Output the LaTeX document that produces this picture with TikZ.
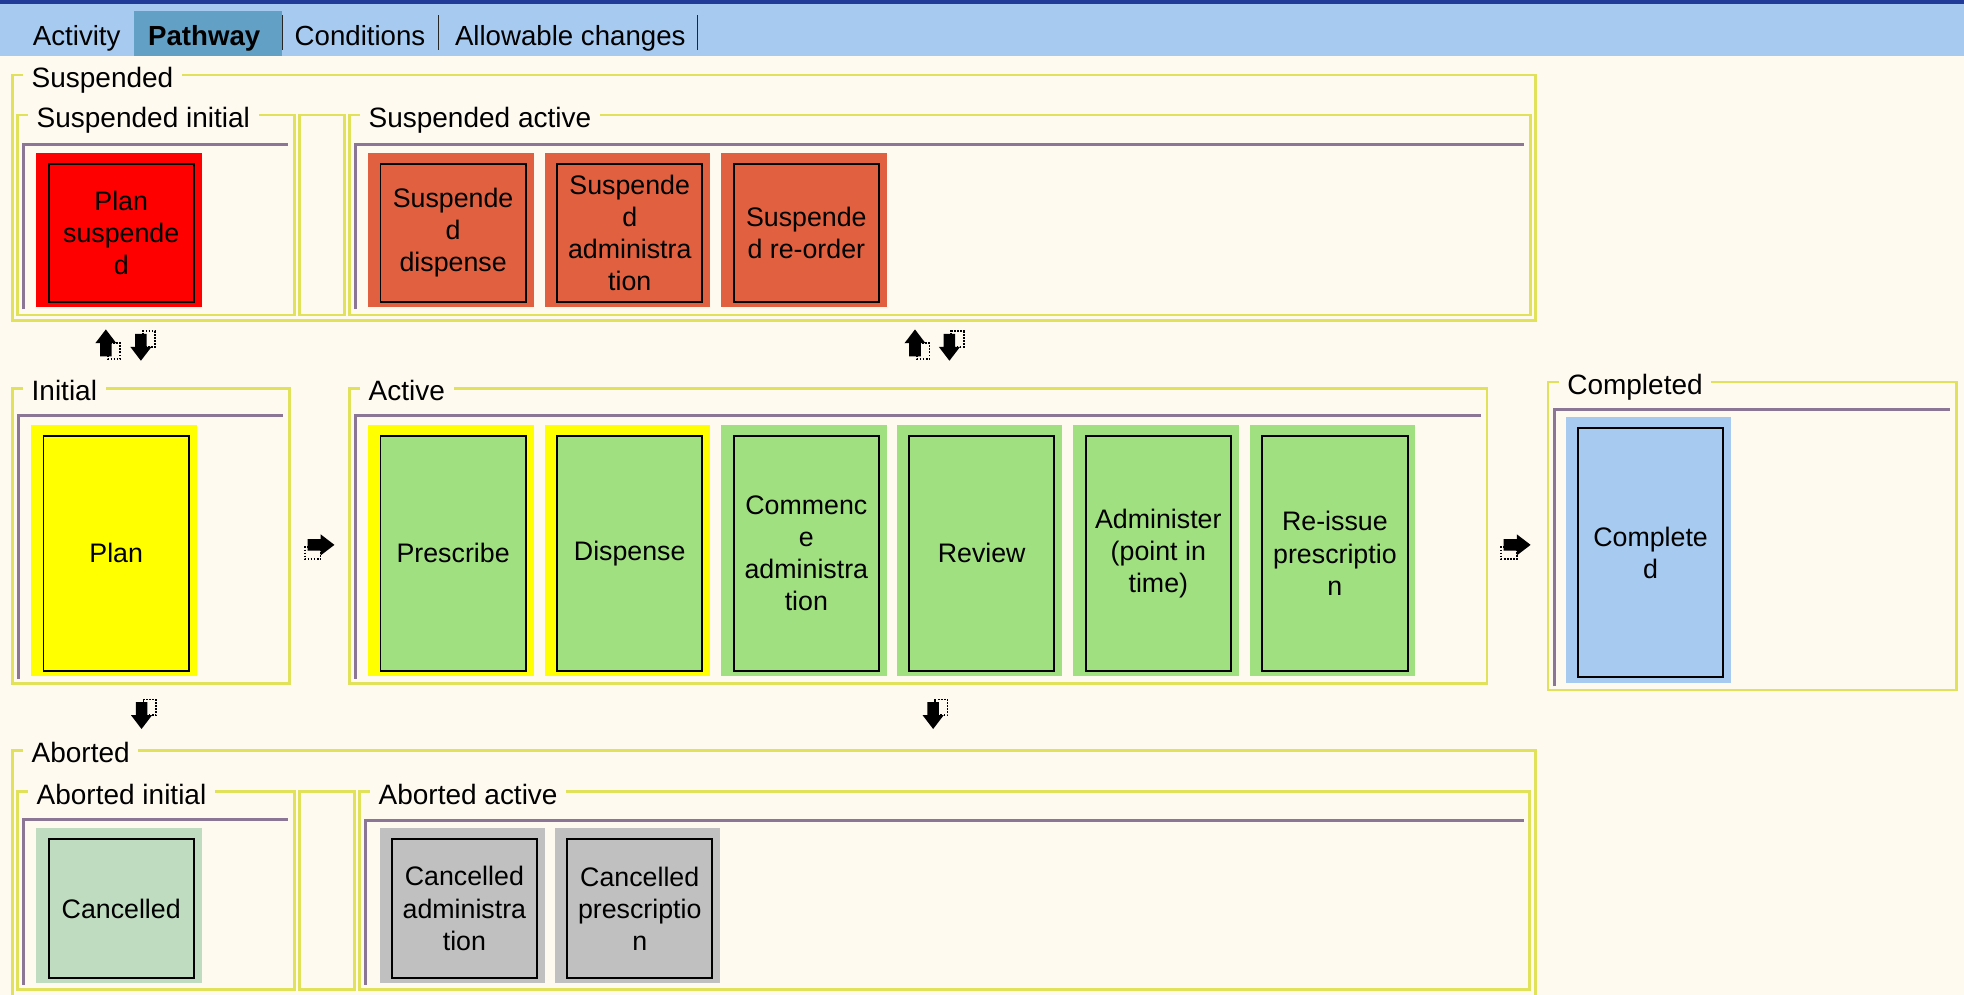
\documentclass[tikz,border=0pt]{standalone}
\usepackage{fontspec}
\setmainfont{Liberation Sans}
\usetikzlibrary{calc}

\definecolor{bgcream}{RGB}{254,250,240}
\definecolor{tabbar}{RGB}{166,202,240}
\definecolor{tabnavy}{RGB}{32,60,152}
\definecolor{tabsel}{RGB}{98,160,198}
\definecolor{frameyel}{RGB}{226,226,90}
\definecolor{panelpurple}{RGB}{140,118,150}
\definecolor{sred}{RGB}{255,0,0}
\definecolor{sorange}{RGB}{224,96,64}
\definecolor{syellow}{RGB}{255,255,0}
\definecolor{sgreen}{RGB}{160,224,128}
\definecolor{sgreenlt}{RGB}{192,220,192}
\definecolor{sblue}{RGB}{166,202,240}
\definecolor{sgray}{RGB}{192,192,192}

\newcommand{\lblfont}{\fontsize{15.9}{18}\selectfont}
\newcommand{\boxfont}{\fontsize{15.2}{18.2}\selectfont}
\newcommand{\tabfont}{\fontsize{15.7}{18}\selectfont}
\def\pxu{0.25mm}

\tikzset{
    grpframe/.style={draw=frameyel, line width=0.5mm},
    grplabel/.style={anchor=base west, fill=bgcream, inner xsep=1.75mm, inner ysep=1pt, font=\lblfont},
    panelline/.style={draw=panelpurple, line width=0.6mm},
    tabtext/.style={anchor=base west, inner sep=0pt, font=\tabfont},
    tabsep/.style={draw=black!85, line width=0.25mm},
    stbox/.style={draw=black, line width=0.38mm, minimum width=116*\pxu, align=center, font=\boxfont, inner sep=0pt},
    pics/droparrow/.style={code={
        \draw[line width=0.95pt, dash pattern=on 0.95pt off 0.8pt] (1.5,-1) rectangle (11.5,11.5);
        \fill[black] (0,-12) -- (8.4,-1) -- (4.6,-1) -- (4.6,9.5) -- (-4.6,9.5) -- (-4.6,-1) -- (-8.4,-1) -- cycle;
    }},
}

% name, x, top, outer height, outer colour, inner colour, text
\newcommand{\stbox}[7]{%
    \fill[#5] (#2,#3) rectangle ++(132,#4);
    \node[stbox, fill=#6, minimum height={(#4-13)*\pxu}, anchor=north west] (#1) at (#2+9,#3+8) {#7};
}

\begin{document}
\begin{tikzpicture}[x=0.25mm, y=-0.25mm]
    \useasboundingbox (0,0) rectangle (1568,794);
    \clip (0,0) rectangle (1568,794);
    \fill[bgcream] (0,0) rectangle (1568,794);

    % Tab bar
    \fill[tabbar] (0,0) rectangle (1568,45);
    \fill[tabnavy] (0,0) rectangle (1568,3);
    \fill[tabsel] (107,9) rectangle (225,45);
    \foreach \sx in {225.5,350,557}
        \draw[tabsep] (\sx,12) -- (\sx,40);
    \node[tabtext] (tabAct) at (26,36) {Activity};
    \node[tabtext, font=\tabfont\bfseries] (tabPath) at (118,36) {Pathway};
    \node[tabtext] (tabCond) at (235,36) {Conditions};
    \node[tabtext] (tabChg) at (363,36) {Allowable changes};

    % Suspended
    \draw[grpframe] (10,60) rectangle (1226,256);
    \node[grplabel] (lSusp) at (18,70) {Suspended};
    \draw[grpframe] (14,92) rectangle (235,251.5);
    \node[grplabel] (lSuspInit) at (22,102) {Suspended initial};
    \draw[panelline] (19,247) -- (19,115) -- (230,115);
    \draw[grpframe] (239,92) rectangle (275,251.5);
    \draw[grpframe] (279,92) rectangle (1222,251.5);
    \node[grplabel] (lSuspAct) at (287,102) {Suspended active};
    \draw[panelline] (284,247) -- (284,115) -- (1217,115);
    \stbox{planSusp}{29}{122}{123}{sred}{sred}{Plan\\suspende\\d}
    \stbox{suspDisp}{294}{122}{123}{sorange}{sorange}{Suspende\\d\\dispense}
    \stbox{suspAdm}{435}{122}{123}{sorange}{sorange}{Suspende\\d\\administra\\tion}
    \stbox{suspReord}{576}{122}{123}{sorange}{sorange}{Suspende\\d re-order}

    % Suspend / resume icons
    \pic (upSI) at (84.5,275) {droparrow};
    \pic[yscale=-1] (dnSI) at (112.5,276) {droparrow};
    \pic (upSA) at (730.5,275) {droparrow};
    \pic[yscale=-1] (dnSA) at (758,276) {droparrow};

    % Initial
    \draw[grpframe] (10,310) rectangle (231,545.5);
    \node[grplabel] (lInit) at (18,320) {Initial};
    \draw[panelline] (15,542) -- (15,332) -- (226,332);
    \stbox{plan}{25}{339}{201}{syellow}{syellow}{Plan}
    \pic[rotate=-90] (rtIA) at (255,435) {droparrow};

    % Active
    \draw[grpframe] (279,310) rectangle (1187,545.5);
    \node[grplabel] (lAct) at (287,320) {Active};
    \draw[panelline] (284,542) -- (284,332) -- (1182,332);
    \stbox{prescribe}{294}{339}{201}{syellow}{sgreen}{Prescribe}
    \stbox{dispense}{435}{339}{201}{syellow}{sgreen}{Dispense}
    \stbox{commence}{576}{339}{201}{sgreen}{sgreen}{Commenc\\e\\administra\\tion}
    \stbox{review}{716}{339}{201}{sgreen}{sgreen}{Review}
    \stbox{administer}{857}{339}{201}{sgreen}{sgreen}{Administer\\(point in\\time)}
    \stbox{reissue}{998}{339}{201}{sgreen}{sgreen}{Re-issue\\prescriptio\\n}
    \pic[rotate=-90] (rtAC) at (1210,435) {droparrow};

    % Completed
    \draw[grpframe] (1236,305) rectangle (1562,551);
    \node[grplabel] (lComp) at (1244,315) {Completed};
    \draw[panelline] (1241,548) -- (1241,327) -- (1557,327);
    \stbox{completed}{1250}{333}{212}{sblue}{sblue}{Complete\\d}

    % Abort icons
    \pic[yscale=-1] (dnIA) at (113,570) {droparrow};
    \pic[yscale=-1] (dnAA) at (745,570) {droparrow};

    % Aborted
    \draw[grpframe] (10,599) rectangle (1226,800);
    \node[grplabel] (lAbort) at (18,609) {Aborted};
    \draw[grpframe] (14,632) rectangle (235,790);
    \node[grplabel] (lAbortInit) at (22,642) {Aborted initial};
    \draw[panelline] (19,786) -- (19,654) -- (230,654);
    \stbox{cancelled}{29}{661}{124}{sgreenlt}{sgreenlt}{Cancelled}
    \draw[grpframe] (239,632) rectangle (283,790);
    \draw[grpframe] (287,632) rectangle (1221,790);
    \node[grplabel] (lAbortAct) at (295,642) {Aborted active};
    \draw[panelline] (292,786) -- (292,655) -- (1217,655);
    \stbox{cancAdm}{303}{661}{124}{sgray}{sgray}{Cancelled\\administra\\tion}
    \stbox{cancPres}{443}{661}{124}{sgray}{sgray}{Cancelled\\prescriptio\\n}
\end{tikzpicture}
\end{document}
